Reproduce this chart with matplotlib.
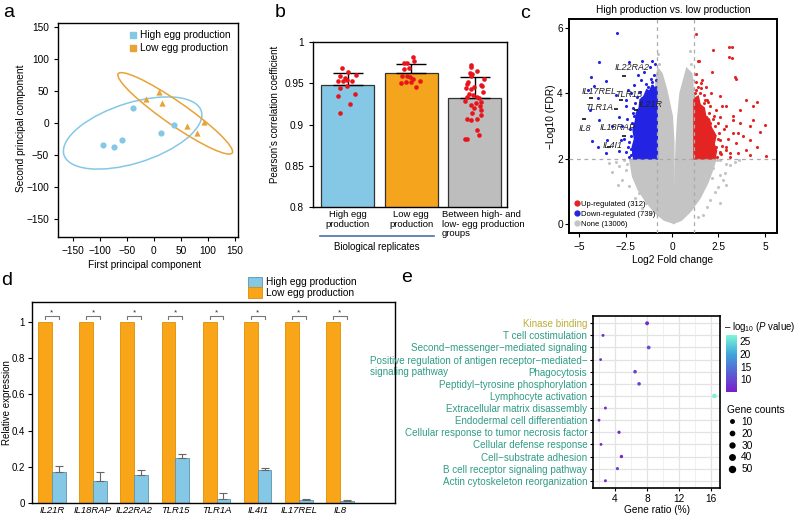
import matplotlib
matplotlib.use('Agg')
import matplotlib.pyplot as plt
import numpy as np
from matplotlib.patches import Ellipse, Polygon, Patch
from matplotlib.lines import Line2D
from matplotlib.colors import LinearSegmentedColormap
from matplotlib.transforms import blended_transform_factory

plt.rcParams['font.family'] = ['Liberation Sans', 'DejaVu Sans']
plt.rcParams['mathtext.fontset'] = 'custom'
plt.rcParams['mathtext.rm'] = 'Liberation Sans'
plt.rcParams['mathtext.it'] = 'Liberation Sans:italic'
plt.rcParams['axes.linewidth'] = 1.0
plt.rcParams['xtick.labelsize'] = 7.3
plt.rcParams['ytick.labelsize'] = 7.3
plt.rcParams['xtick.major.size'] = 3
plt.rcParams['ytick.major.size'] = 3
plt.rcParams['xtick.major.width'] = 0.8
plt.rcParams['ytick.major.width'] = 0.8

# ---------------- data ----------------
# (a) PCA
pca_high_x = [-95, -75, -60, -38, 13, 37]
pca_high_y = [-34, -37, -27, 23, -16, -3]
pca_low_x = [-15, 10, 15, 62, 79, 93]
pca_low_y = [37, 48, 31, -5, -15, 1]
ell_high = dict(xy=(-39.5, -15.7), width=264, height=95, angle=14.25)
ell_low = dict(xy=(39.5, 15), width=245, height=38, angle=-30.1)

# (b) Pearson correlations
corr_groups = ['High egg\nproduction', 'Low egg\nproduction',
               'Between high- and\nlow- egg production\ngroups']
corr_means = [0.948, 0.962, 0.932]
corr_err = [0.015, 0.011, 0.026]
corr_high = [0.9686, 0.9634, 0.9585, 0.9569, 0.9602, 0.9533, 0.9525, 0.9537,
             0.9529, 0.9437, 0.9469, 0.9348, 0.9364, 0.9243, 0.9143]
jit_high = [-0.09, 0.0, -0.12, -0.04, 0.13, -0.16, -0.08, -0.01, 0.07, -0.12,
            -0.02, -0.15, 0.12, 0.04, -0.13]
corr_low = [0.9822, 0.9774, 0.9750, 0.9742, 0.9681, 0.9669, 0.9588, 0.9588,
            0.9572, 0.9548, 0.9531, 0.9507, 0.9519, 0.9511, 0.9451]
jit_low = [0.03, 0.04, -0.06, -0.12, -0.04, -0.12, -0.14, -0.06, -0.02, 0.02,
           0.14, -0.16, -0.09, -0.01, 0.07]
corr_between = [0.9721, 0.9693, 0.9649, 0.9628, 0.9608, 0.9588, 0.9487, 0.9479,
                0.9467, 0.9459, 0.9447, 0.9427, 0.9370, 0.9358, 0.9337, 0.9337,
                0.9317, 0.9277, 0.9257, 0.9236, 0.9196, 0.9176, 0.9136, 0.9115,
                0.9067, 0.9067, 0.9055, 0.8933, 0.8873, 0.8821, 0.8821,
                0.955, 0.951, 0.940, 0.928, 0.922]
jit_between = [-0.06, -0.05, 0.04, -0.08, -0.04, -0.05, -0.12, 0.10, 0.12, -0.01,
               -0.14, -0.06, -0.09, -0.02, -0.12, 0.03, 0.07, 0.10, 0.02, -0.06,
               -0.01, 0.10, -0.04, 0.10, 0.03, -0.12, -0.06, 0.04, 0.07, -0.16,
               -0.12, 0.15, -0.10, 0.13, -0.15, 0.08]

# (c) volcano
up_x = [1.3, 2.2, 3.05, 3.23, 3.05, 3.23, 1.48, 2.17, 3.38, 3.43, 1.84, 2.56, 4.0,
        4.37, 5.0, 4.55, 2.92, 3.65, 2.38, 3.29, 4.37, 4.19, 4.73, 3.56, 2.92, 2.56,
        4.19, 3.83, 3.47, 4.55, 4.0, 5.05, 4.19, 3.56, 2.92, 2.56, 2.2, 2.56, 3.1,
        2.38, 2.02, 1.84, 1.75, 1.57, 2.02, 3.29, 3.65,
        1.3, 1.5, 1.7, 2.0, 2.3, 2.5, 2.6, 2.4, 1.25, 1.35, 2.2, 1.45, 2.7, 2.8,
        1.9, 1.6, 1.3, 2.0, 3.0, 3.3, 2.1, 1.4, 2.7, 1.8,
        2.55, 2.45, 2.25, 2.05, 1.95, 1.7, 1.4, 1.28, 2.65, 2.9, 3.1, 1.55, 1.22]
up_y = [5.82, 5.34, 5.41, 5.41, 5.1, 5.08, 4.98, 4.67, 4.49, 4.44, 4.21, 3.91, 3.8,
        3.6, 3.04, 3.75, 3.6, 3.5, 3.5, 3.19, 3.19, 2.99, 2.83, 2.78, 2.99, 3.29,
        2.58, 2.68, 2.47, 2.37, 2.27, 2.07, 2.12, 2.17, 2.37, 2.58, 2.78, 2.17, 2.17,
        2.37, 2.47, 3.29, 3.8, 4.31, 3.09, 2.78, 3.09,
        4.1, 4.0, 3.7, 3.4, 3.0, 2.6, 2.2, 2.05, 3.2, 2.5, 3.2, 3.5, 2.4, 2.9,
        3.8, 4.4, 4.6, 2.1, 2.6, 3.3, 4.0, 5.0, 3.6, 2.9,
        2.8, 3.1, 3.3, 3.6, 3.75, 3.95, 4.2, 4.35, 2.15, 2.25, 2.05, 4.15, 4.0]
down_x = [-2.98, -3.93, -4.38, -3.57, -2.31, -1.59, -1.05, -4.2, -4.5, -4.0, -4.42,
          -3.95, -4.31, -4.0, -3.47, -3.56, -2.84, -3.2, -2.84, -2.39, -2.03, -2.48,
          -3.0, -1.85, -1.49, -2.03, -2.39, -2.75, -2.12,
          -2.2, -2.3, -2.25, -2.1, -2.0, -1.7, -1.4, -1.15, -0.95, -1.2, -0.9, -1.65,
          -2.4, -2.6, -2.5, -1.9, -2.7, -2.2, -1.9, -1.0, -2.45,
          -2.18, -2.22, -2.15, -2.05, -1.85, -1.6, -1.3, -1.05, -0.88, -2.3, -2.1]
down_y = [5.85, 4.97, 4.5, 4.39, 4.97, 5.0, 4.98, 4.23, 4.11, 3.85, 3.5, 3.19, 2.53,
          2.37, 2.58, 2.17, 2.22, 2.99, 3.29, 4.11, 4.26, 3.8, 3.96, 4.57, 4.67, 2.78,
          2.37, 2.58, 2.17,
          2.1, 2.5, 2.9, 3.4, 3.7, 4.05, 4.3, 4.45, 4.55, 4.8, 4.9, 4.4, 3.2, 2.6,
          2.2, 2.05, 3.0, 4.0, 3.9, 4.0, 3.6,
          2.3, 2.7, 3.1, 3.3, 3.5, 3.85, 4.2, 4.35, 4.4, 2.05, 3.55]
none_x = [-2.13, -2.49, -2.85, -1.95, -2.31, -1.77, -2.67, -1.41, -3.0, -3.39, -2.6,
          -1.6, -1.2, -2.0, -2.4, -1.8, -3.2, -2.9, -0.7, -0.75, -0.8, -0.65,
          2.58, 2.92, 2.58, 2.04, 1.86, 2.76, 2.31, 2.49, 2.85, 2.13, 2.22, 2.58, 1.68,
          3.1, 3.4, 2.9, 0.95, 1.0, 0.9, 1.1, 1.4, 2.4, 3.6]
none_y = [1.96, 1.66, 1.76, 1.45, 1.15, 0.94, 1.35, 0.63, 1.9, 1.86, 1.95, 0.5, 0.3,
          0.8, 1.85, 1.7, 1.6, 1.2, 4.9, 5.2, 4.6, 4.4,
          1.96, 1.19, 0.63, 0.73, 0.53, 1.35, 0.99, 1.14, 1.55, 1.4, 1.7, 1.5, 0.27,
          1.8, 1.9, 1.85, 5.3, 4.9, 4.6, 4.4, 0.2, 1.95, 1.95]
# outlines of the densely packed point clouds (log2FC, -log10 FDR)
none_core_left_x = [0.1, -0.4, -0.9, -1.4, -1.8, -2.1, -2.25, -0.85, -0.85, -0.75,
                    -0.55, -0.3, 0.0, 0.08, 0.1]
none_core_left_y = [0.03, 0.12, 0.35, 0.7, 1.05, 1.45, 1.95, 2.1, 4.3, 4.75, 4.6,
                    4.1, 3.3, 2.5, 0.3]
none_core_right_x = [0.1, 0.5, 1.0, 1.5, 1.9, 2.2, 2.35, 1.15, 1.15, 1.05, 0.8,
                     0.45, 0.32, 0.25, 0.12]
none_core_right_y = [0.03, 0.12, 0.4, 0.8, 1.25, 1.7, 2.0, 2.1, 4.0, 4.6, 4.75,
                     4.0, 3.2, 2.5, 0.3]
down_core_x = [-0.8, -2.05, -2.12, -2.0, -2.08, -1.95, -1.9, -1.75, -1.7, -1.5,
               -1.35, -1.2, -1.05, -0.95, -0.82]
down_core_y = [2.0, 2.0, 2.35, 2.6, 2.9, 3.15, 3.4, 3.55, 3.8, 3.9, 4.1, 4.05, 4.25,
               4.15, 4.2]
up_core_x = [1.2, 2.3, 2.38, 2.25, 2.35, 2.1, 2.0, 1.8, 1.72, 1.5, 1.4, 1.25, 1.2]
up_core_y = [2.0, 2.0, 2.25, 2.45, 2.7, 2.95, 3.2, 3.3, 3.55, 3.65, 3.9, 3.85, 3.8]
n_up, n_down, n_none = 312, 739, 13006
fc_cut_low, fc_cut_high, fdr_cut = -0.8, 1.2, 2.0
gene_names = ['IL22RA2', 'IL17REL', 'TLR15', 'TLR1A', 'IL21R', 'IL8', 'IL18RAP', 'IL4I1']
gene_x = [-2.58, -4.33, -2.76, -3.03, -1.95, -4.71, -2.6, -3.4]
gene_y = [4.54, 3.85, 3.8, 3.52, 3.5, 3.22, 2.7, 2.35]
label_x = [-2.13, -3.9, -2.31, -3.93, -1.14, -4.71, -2.94, -3.18]
label_y = [4.78, 4.06, 3.98, 3.58, 3.65, 2.93, 2.95, 2.4]

# (d) qPCR
qpcr_genes = ['IL21R', 'IL18RAP', 'IL22RA2', 'TLR15', 'TLR1A', 'IL4I1', 'IL17REL', 'IL8']
qpcr_low = [1, 1, 1, 1, 1, 1, 1, 1]
qpcr_high = [0.17, 0.12, 0.155, 0.25, 0.022, 0.183, 0.015, 0.01]
qpcr_high_err = [0.035, 0.05, 0.027, 0.02, 0.033, 0.008, 0.005, 0.004]

# (e) GO enrichment
go_terms = ['Kinase binding', 'T cell costimulation', 'Second\u2212messenger\u2212mediated signaling',
            'Positive regulation of antigen receptor\u2212mediated\u2212\nsignaling pathway',
            'Phagocytosis', 'Peptidyl\u2212tyrosine phosphorylation', 'Lymphocyte activation',
            'Extracellular matrix disassembly', 'Endodermal cell differentiation',
            'Cellular response to tumor necrosis factor', 'Cellular defense response',
            'Cell\u2212substrate adhesion', 'B cell receptor signaling pathway',
            'Actin cytoskeleton reorganization']
go_category = ['MF'] + ['BP'] * 13
go_ratio = [8.0, 2.5, 8.2, 2.2, 6.5, 7.0, 16.4, 2.8, 2.0, 4.5, 2.25, 4.8, 4.3, 2.8]
go_count = [15, 4, 13, 3, 11, 11, 25, 4, 3, 7, 3, 8, 6, 4]
go_logp = [6.5, 7.0, 10.5, 8.0, 9.0, 9.5, 27.0, 7.0, 6.0, 6.0, 7.0, 5.5, 8.5, 6.5]
legend_counts = [10, 20, 30, 40, 50]

# ---------------- figure ----------------
W, H = 798, 519
fig = plt.figure(figsize=(W / 100, H / 100), dpi=100)


def ax_px(x0, y0, x1, y1):
    return fig.add_axes([x0 / W, 1 - y1 / H, (x1 - x0) / W, (y1 - y0) / H])


BLUE = '#84C8E6'
ORANGE = '#F5A41E'
ORANGE_A = '#E8A236'

# ---- (a)
axa = ax_px(58, 23, 238, 237)
axa.add_patch(Ellipse(facecolor='none', edgecolor=BLUE, lw=1.1, **ell_high))
axa.add_patch(Ellipse(facecolor='none', edgecolor=ORANGE_A, lw=1.1, **ell_low))
axa.scatter(pca_high_x, pca_high_y, s=20, color=BLUE, marker='o', lw=0, zorder=3)
axa.scatter(pca_low_x, pca_low_y, s=20, color=ORANGE_A, marker='^', lw=0, zorder=3)
axa.set_xlim(-178, 156)
axa.set_ylim(-178, 156)
axa.set_xticks(np.arange(-150, 151, 50))
axa.set_yticks(np.arange(-150, 151, 50))
axa.set_xlabel('First principal component', fontsize=7.3)
axa.xaxis.set_label_coords(0.483, -0.13)
axa.xaxis.label.set_va('center')
axa.set_ylabel('Second principal component', fontsize=7.3)
axa.yaxis.set_label_coords(-0.175, 0.51)
axa.legend(handles=[Line2D([], [], marker='s', ls='', color=BLUE, ms=4.5),
                    Line2D([], [], marker='s', ls='', color=ORANGE_A, ms=4.5)],
           labels=['High egg production', 'Low egg production'], loc='upper right',
           frameon=False, fontsize=7.3, handlelength=0.8, handletextpad=0.3,
           labelspacing=0.3, borderaxespad=0.3)

# ---- (b)
axb = ax_px(313, 42, 507, 207)
xb = np.arange(3)
axb.bar(xb, corr_means, width=0.84, color=[BLUE, ORANGE, '#BDBDBD'],
        edgecolor='#333333', lw=0.9, zorder=2)
axb.errorbar(xb, corr_means, yerr=[[0, 0, 0], corr_err], fmt='none', ecolor='black',
             elinewidth=1, capsize=11, capthick=1, zorder=3)
for i, (vals, jit) in enumerate([(corr_high, jit_high), (corr_low, jit_low),
                                 (corr_between, jit_between)]):
    axb.scatter(np.array(jit) + i, vals, s=11, color='#E8141B', lw=0, zorder=4)
axb.set_ylim(0.8, 1.0)
axb.set_xlim(-0.55, 2.51)
axb.set_yticks([0.8, 0.85, 0.9, 0.95, 1.0])
axb.set_yticklabels(['0.8', '0.85', '0.9', '0.95', '1'])
axb.set_xticks(xb)
axb.set_xticklabels([])
axb.tick_params(axis='x', length=0)
tb = axb.get_xaxis_transform()
for i, lab in enumerate(corr_groups):
    if i < 2:
        axb.text(xb[i], -0.02, lab, transform=tb, ha='center', va='top', fontsize=6.8,
                 linespacing=1.05)
    else:
        axb.text(xb[i] - 0.52, -0.02, lab, transform=tb, ha='left', va='top',
                 fontsize=6.8, linespacing=1.05)
axb.set_ylabel("Pearson's correlation coefficient", fontsize=7.0)
axb.yaxis.set_label_coords(-0.17, 0.56)
axb.plot([-0.44, 1.36], [-0.178, -0.178], transform=tb, color='#4A6FA5', lw=1.2,
         clip_on=False)
axb.text(0.46, -0.215, 'Biological replicates', transform=tb, ha='center', va='top',
         fontsize=7.0)

# ---- (c)
axc = ax_px(569, 19, 777, 233)
GRAY = '#C4C4C4'
axc.add_patch(Polygon(list(zip(none_core_left_x, none_core_left_y)), closed=True,
                      facecolor=GRAY, edgecolor=GRAY, lw=1.5, zorder=1))
axc.add_patch(Polygon(list(zip(none_core_right_x, none_core_right_y)), closed=True,
                      facecolor=GRAY, edgecolor=GRAY, lw=1.5, zorder=1))
axc.scatter(none_x, none_y, s=5, color=GRAY, lw=0, zorder=1)
axc.add_patch(Polygon(list(zip(down_core_x, down_core_y)), closed=True,
                      facecolor='#2323E4', edgecolor='#2323E4', lw=1.5, zorder=2))
axc.add_patch(Polygon(list(zip(up_core_x, up_core_y)), closed=True,
                      facecolor='#E42323', edgecolor='#E42323', lw=1.5, zorder=2))
axc.scatter(down_x, down_y, s=5, color='#2323E4', lw=0, zorder=2)
axc.scatter(up_x, up_y, s=5, color='#E42323', lw=0, zorder=2)
axc.axvline(fc_cut_low, color='#AAAAAA', ls=(0, (3, 3)), lw=0.9, zorder=3)
axc.axvline(fc_cut_high, color='#AAAAAA', ls=(0, (3, 3)), lw=0.9, zorder=3)
axc.axhline(fdr_cut, color='#AAAAAA', ls=(0, (3, 3)), lw=0.9, zorder=3)
axc.scatter(gene_x, gene_y, s=5, color='#111111', marker='_', lw=1.2, zorder=4)
for g, lx, ly in zip(gene_names, label_x, label_y):
    axc.text(lx, ly, g, fontsize=6.5, style='italic', ha='center', va='center',
             color='#222222', zorder=5)
axc.set_xlim(-5.54, 5.65)
axc.set_ylim(-0.28, 6.28)
axc.set_xticks([-5, -2.5, 0, 2.5, 5])
axc.set_xticklabels(['\u22125', '\u22122.5', '0', '2.5', '5'])
axc.set_yticks([0, 2, 4, 6])
axc.tick_params(axis='y', pad=1.5)
for s in axc.spines.values():
    s.set_linewidth(1.4)
axc.set_xlabel('Log2 Fold change', fontsize=7.3, labelpad=2)
axc.set_ylabel('\u2212Log10 (FDR)', fontsize=7.3)
axc.yaxis.set_label_coords(-0.062, 0.545)
axc.set_title('High production vs. low production', fontsize=7.3, pad=4)
axc.legend(handles=[Line2D([], [], marker='o', ls='', color='#E42323', ms=3.5),
                    Line2D([], [], marker='o', ls='', color='#2323E4', ms=3.5),
                    Line2D([], [], marker='o', ls='', color=GRAY, ms=3.5)],
           labels=[f'Up-regulated ({n_up})', f'Down-regulated ({n_down})',
                   f'None ({n_none})'],
           loc='lower left', frameon=False, fontsize=5.5, handlelength=0.6,
           handletextpad=0.3, labelspacing=0.35, borderaxespad=0.3)

# ---- (d)
axd = ax_px(32, 302, 395, 503)
xd = np.arange(len(qpcr_genes))
bw = 0.335
axd.bar(xd - bw / 2, qpcr_low, width=bw, color='#F9A51A', edgecolor='#E08E00', lw=0.6,
        zorder=2)
axd.bar(xd + bw / 2, qpcr_high, width=bw, color=BLUE, edgecolor='#5B93AE', lw=0.6,
        zorder=2)
axd.errorbar(xd + bw / 2, qpcr_high, yerr=[[0] * len(xd), qpcr_high_err], fmt='none',
             ecolor='#666666', elinewidth=0.8, capsize=3, capthick=0.8, zorder=3)
for i in xd:
    axd.plot([i - bw / 2, i - bw / 2, i + bw / 2, i + bw / 2], [1.018, 1.03, 1.03, 1.018],
             color='#777777', lw=0.8, zorder=3)
    axd.text(i, 1.032, '*', ha='center', va='bottom', fontsize=6, color='#333333')
axd.set_xlim(-0.486, 8.34)
axd.set_ylim(0, 1.11)
axd.set_yticks([0, 0.2, 0.4, 0.6, 0.8, 1.0])
axd.set_yticklabels(['0', '0.2', '0.4', '0.6', '0.8', '1'])
axd.set_xticks(xd)
axd.set_xticklabels(qpcr_genes, style='italic', fontsize=6.8)
axd.tick_params(axis='x', length=0, pad=2)
axd.tick_params(axis='y', labelsize=7.0, pad=2)
axd.set_ylabel('Relative expression', fontsize=7.0)
axd.yaxis.set_label_coords(-0.055, 0.5)
axd.legend(handles=[Patch(facecolor=BLUE, edgecolor='#5B93AE', lw=0.6),
                    Patch(facecolor='#F9A51A', edgecolor='#E08E00', lw=0.6)],
           labels=['High egg production', 'Low egg production'], loc='upper left',
           bbox_to_anchor=(0.595, 1.125), frameon=False, fontsize=7.3, handlelength=1.4,
           handleheight=1.2, handletextpad=0.4, labelspacing=0.0, borderaxespad=0,
           borderpad=0)

# ---- (e)
axe = ax_px(593, 316, 720, 488)
cmap = LinearSegmentedColormap.from_list('pv', ['#7A1CCB', '#5A60D2', '#3FA6DB', '#7EF7D6'])
ye = np.arange(len(go_terms))
sizes = [(np.sqrt(6.3 + 0.594 * c) * 0.72) ** 2 for c in go_count]
sc = axe.scatter(go_ratio, ye, s=sizes, c=go_logp, cmap=cmap, vmin=5, vmax=27.4,
                 lw=0, zorder=3)
axe.set_xlim(1.25, 17.1)
axe.set_ylim(len(go_terms) - 1 + 0.6, -0.6)
axe.set_xticks([4, 8, 12, 16])
axe.set_xticks([2, 6, 10, 14], minor=True)
axe.grid(which='major', color='#E3E3E3', lw=0.9, zorder=0)
axe.grid(which='minor', axis='x', color='#EEEEEE', lw=0.6, zorder=0)
axe.tick_params(which='minor', length=0)
axe.set_yticks(ye)
axe.set_yticklabels([])
te = blended_transform_factory(axe.transAxes, axe.transData)
pending = []
for yy, term, cat in zip(ye, go_terms, go_category):
    col = '#BCAE37' if cat == 'MF' else '#2F9C86'
    lines = term.split('\n')
    t1 = axe.text(-0.045, yy, lines[0], transform=te, ha='right', va='center_baseline',
                  fontsize=7.1, color=col)
    if len(lines) > 1:
        pending.append((t1, yy, lines[1], col))
axe.tick_params(axis='y', length=2.5, pad=1.5)
axe.tick_params(axis='x', length=2.5, pad=1.5)
axe.set_xlabel('Gene ratio (%)', fontsize=7.3, labelpad=1)
for s in axe.spines.values():
    s.set_linewidth(1.2)

cax = ax_px(726, 335, 737, 392)
cb = fig.colorbar(sc, cax=cax)
cb.outline.set_visible(False)
cb.set_ticks([10, 15, 20, 25])
cax.tick_params(length=0, pad=2, labelsize=7.3)
fig.text(724 / W, 1 - 330 / H, '\u2013 log$_{10}$ ($\\mathit{P}$ value)', fontsize=6.9,
         ha='left', va='baseline')

handles = [Line2D([], [], marker='o', ls='', color='black',
                  ms=np.sqrt(6.3 + 0.594 * c) * 0.72) for c in legend_counts]
fig.legend(handles=handles, labels=[str(c) for c in legend_counts], loc='upper left',
           bbox_to_anchor=(722 / W, 1 - 400 / H), frameon=False, title='Gene counts',
           fontsize=7.3, title_fontsize=7.3, alignment='left', labelspacing=0.18,
           handletextpad=0.4, handlelength=1.0, borderpad=0)

# panel letters
for letter, x, y in [('a', 3, 17), ('b', 275, 17), ('c', 520, 18), ('d', 1, 285),
                     ('e', 401, 282)]:
    fig.text(x / W, 1 - y / H, letter, fontsize=14, ha='left', va='baseline')

# second line of the wrapped GO term, left-aligned under its first line
fig.canvas.draw()
renderer = fig.canvas.get_renderer()
for t1, yy, second, col in pending:
    bb = t1.get_window_extent(renderer)
    x_ax = axe.transAxes.inverted().transform((bb.x0, 0))[0]
    axe.text(x_ax, yy + 0.92, second, transform=te, ha='left', va='center_baseline',
             fontsize=7.1, color=col)

fig.savefig('out.png', dpi=100)
